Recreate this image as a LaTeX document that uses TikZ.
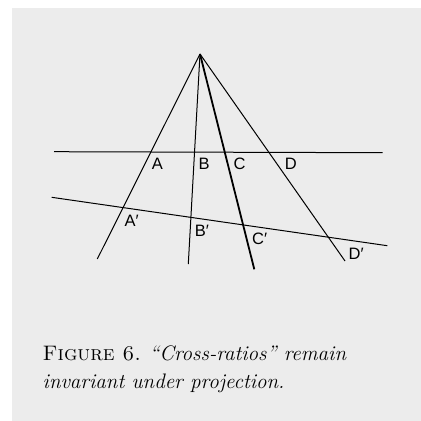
\documentclass[tikz,border=0pt]{standalone}
\usepackage{fontspec}
\newfontfamily\labelfont{Liberation Sans}
\definecolor{panel}{HTML}{ECECEC}

\begin{document}
\begin{tikzpicture}[x=1pt,y=-1pt,
    ray/.style={line width=1pt},
    thickray/.style={line width=1.8pt},
    lbl/.style={font=\labelfont\fontsize{16.5}{16.5}\selectfont, inner sep=0pt}]
    \useasboundingbox (0,0) rectangle (421,421);
    \fill[panel] (12,8) rectangle (421,421);
    \coordinate (O) at (200,54);
    % the two transversals
    \coordinate (l1) at (54,151.7);   \coordinate (r1) at (382.7,152.7);
    \coordinate (l2) at (51.7,197.3); \coordinate (r2) at (387.3,245.7);
    \draw[ray] (l1) -- (r1);
    \draw[ray] (l2) -- (r2);
    % rays from the centre of projection
    \foreach \n/\x/\y in {a/97.3/259, b/188.3/264, d/345/261} {
      \coordinate (\n) at (\x,\y);
      \draw[ray] (O) -- (\n);
    }
    \coordinate (c) at (254.3,269.3);
    \draw[thickray] (O) -- (c);
    % point labels
    \foreach \n/\t/\x/\y in {A/A/157.5/164.2, B/B/204.2/164.2, C/C/239.7/164.2,
        D/D/290.8/164.2, Ap/A′/131.7/220.7, Bp/B′/202/230.5,
        Cp/C′/259.7/238.8, Dp/D′/356.2/253.7} {
      \node[lbl] (\n) at (\x,\y) {\t};
    }
    \node[anchor=base west, align=left, inner sep=0pt,
          font=\fontsize{21}{27.7}\selectfont] (caption) at (42.5,388)
      {\textsc{Figure 6.} \textit{``Cross-ratios'' remain}\\
       \textit{invariant under projection.}};
\end{tikzpicture}
\end{document}
